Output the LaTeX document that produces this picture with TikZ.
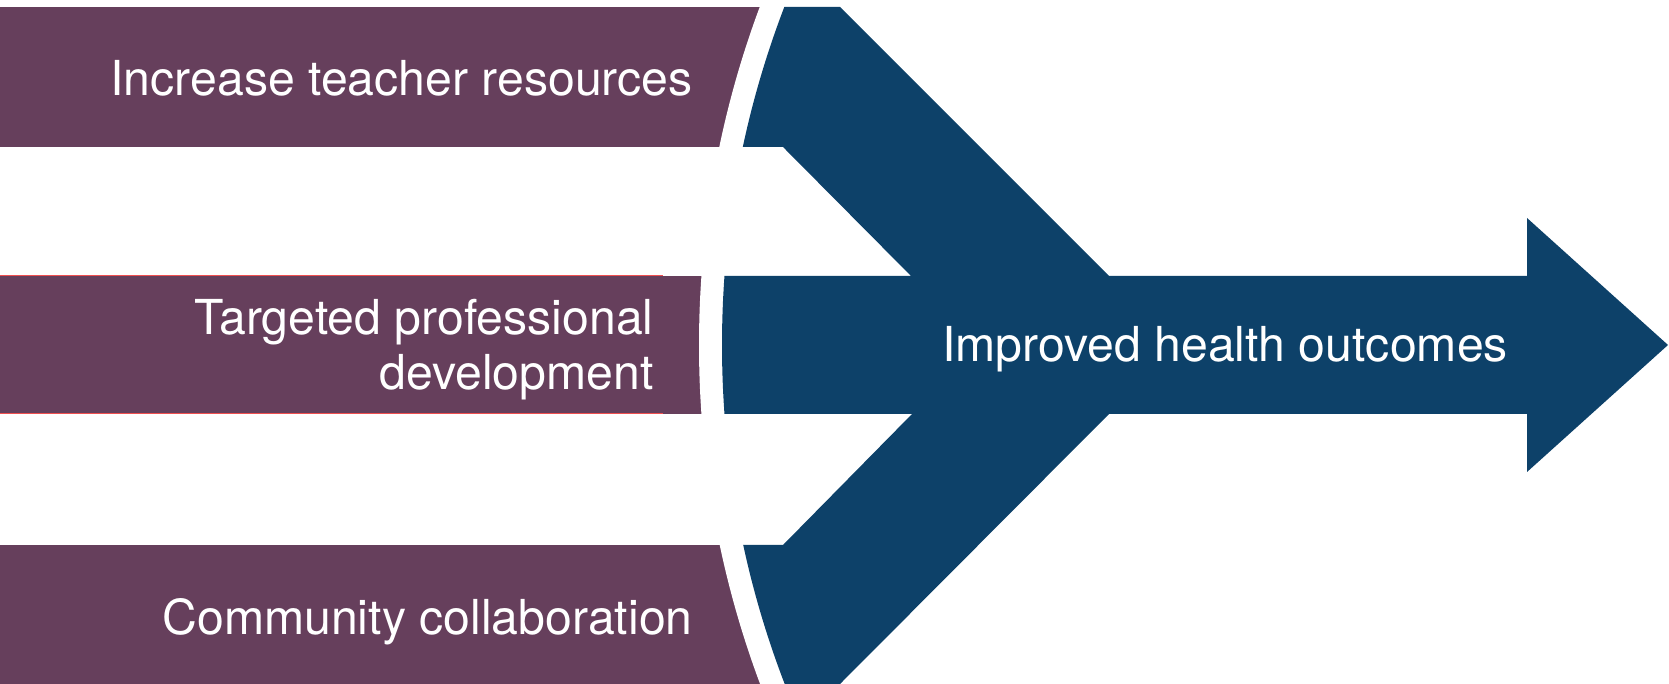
\documentclass[tikz,border=0pt]{standalone}
\usepackage{fontspec}
\setmainfont{TeX Gyre Heros}

\definecolor{plum}{HTML}{663F5C}
\definecolor{arrowblue}{HTML}{0D4169}
\definecolor{seam}{HTML}{F05050}

\tikzset{
	band/.style={fill=plum},
	bandtext/.style={text=white,inner sep=0pt,font=\fontsize{24.1}{27.5}\selectfont},
}

\begin{document}
\begin{tikzpicture}[x=0.5pt,y=0.5pt]
	\useasboundingbox (0,0) rectangle (1669,684);
	\clip (0,0) rectangle (1669,684);
	\coordinate (hub) at (1666,339);

	% the three input bands
	\fill[band] (0,537) rectangle (800,677);
	\fill[band] (0,270) rectangle (800,408);
	\fill[band] (0,0) rectangle (800,139);
	\draw[seam,line width=0.5pt] (0,408) -- (663,408) (0,270) -- (663,270);
	% round cut between bands and arrow
	\fill[white] (hub) circle[radius=967];

	% merging arrow
	\begin{scope}
		\clip (hub) circle[radius=944];
		\fill[arrowblue] (700,677) -- (840,677) -- (1109,408) -- (1527,408) -- (1527,466) -- (1668,339)
			-- (1527,212) -- (1527,270) -- (1109,270) -- (840,0) -- (700,0) -- (700,139) -- (783,139)
			-- (912,270) -- (700,270) -- (700,408) -- (911,408) -- (783,537) -- (700,537) -- cycle;
	\end{scope}

	\node[bandtext,anchor=base east] (resources) at (693,588) {Increase teacher resources};
	\node[bandtext,anchor=base east,align=right] (training) at (654,294) {Targeted professional\\development};
	\node[bandtext,anchor=base east] (community) at (693,49) {Community collaboration};
	\node[bandtext,anchor=base] (outcomes) at (1225,322) {Improved health outcomes};
\end{tikzpicture}
\end{document}
